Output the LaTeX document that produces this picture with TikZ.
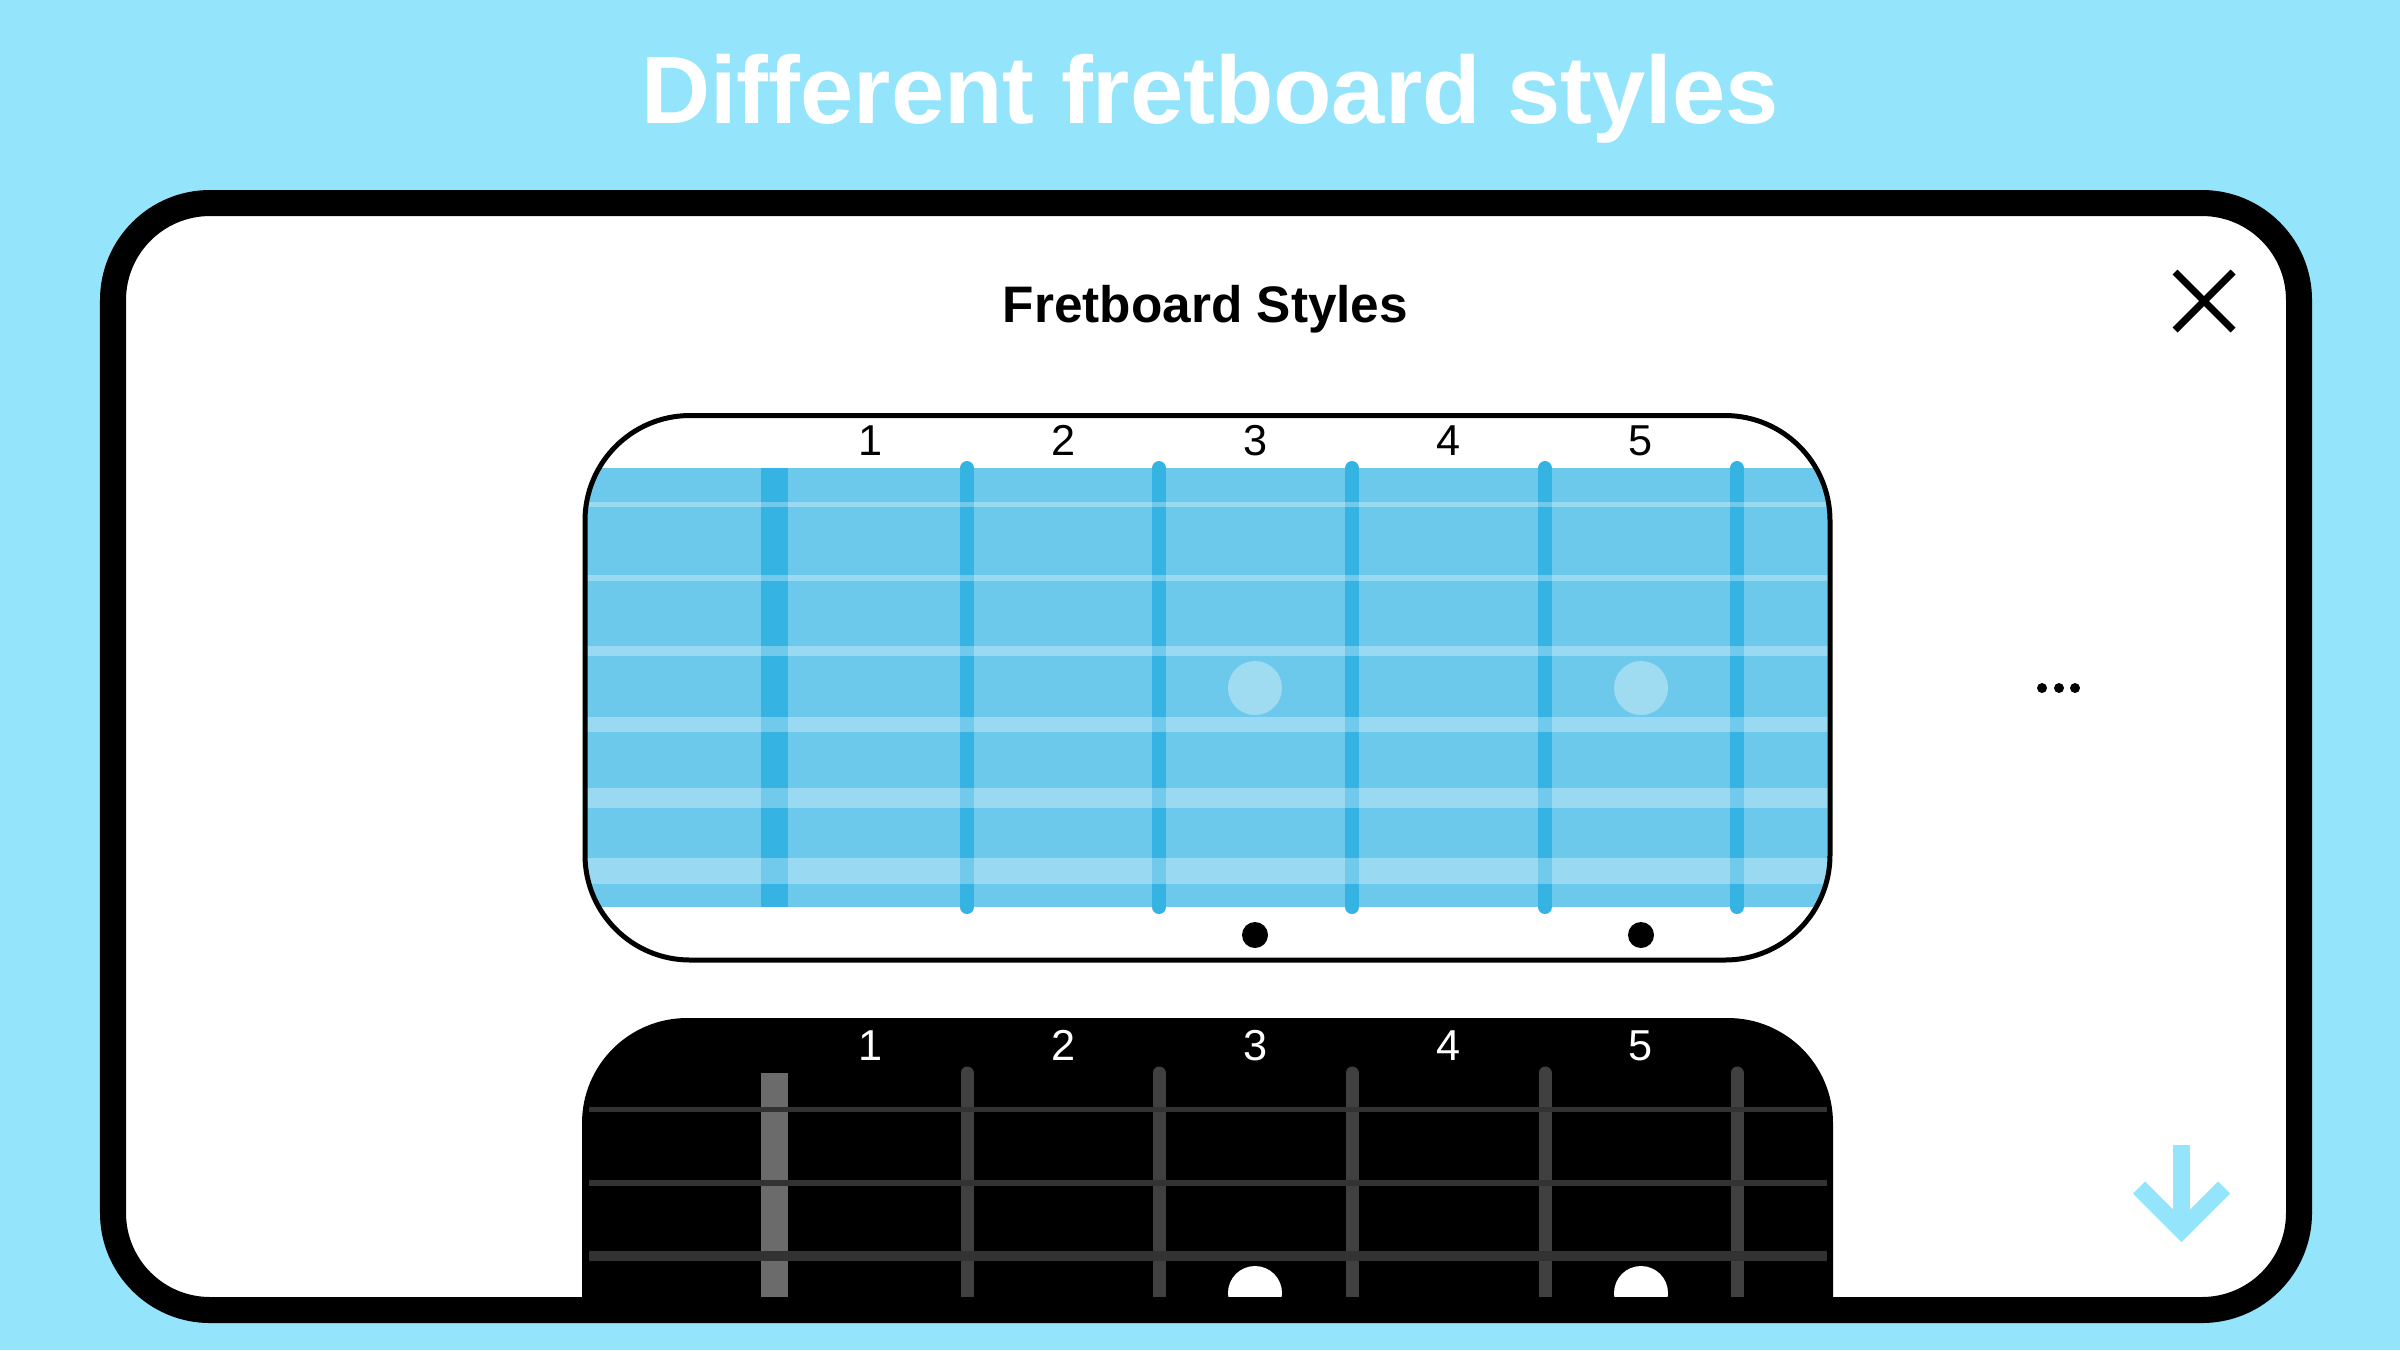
\documentclass[tikz,border=0pt]{standalone}
\usepackage{fontspec}
\setmainfont{Liberation Sans}
\usepackage{tikz}
\usetikzlibrary{positioning}
\usetikzlibrary{calc}

\definecolor{skybg}{RGB}{148,229,251}
\definecolor{neckblue}{RGB}{109,201,235}
\definecolor{fretblue}{RGB}{53,180,228}
\definecolor{darkstring}{RGB}{51,51,51}
\definecolor{darkfret}{RGB}{64,64,64}
\definecolor{darknut}{RGB}{107,107,107}

\tikzset{
  fretnum/.style={anchor=base, inner sep=0pt, font=\fontsize{12.3pt}{14pt}\selectfont},
  fretbar/.style={line width=3.98pt, line cap=round},
  nylon/.style={white, opacity=0.3},
  inlay/.style={white, opacity=0.35}
}

\begin{document}
\begin{tikzpicture}[x=0.01cm, y=-0.01cm]
\useasboundingbox (0,0) rectangle (2400,1350);
\fill[skybg] (0,0) rectangle (2400,1350);

\node[anchor=base, inner sep=0pt, white, font=\bfseries\fontsize{27.2pt}{30pt}\selectfont] (title) at (1210,123) {Different fretboard styles};

% dialog
\fill[white, rounded corners=0.97cm] (113,203) rectangle (2299,1310);
\node[anchor=base, inner sep=0pt, font=\bfseries\fontsize{14.6pt}{16pt}\selectfont] (heading) at (1205.5,322) {Fretboard Styles};

% light style
\begin{scope}
\clip[rounded corners=1.05cm] (585,415.5) rectangle (1830,960);
\fill[neckblue] (585,468) rectangle (1830,907);
\fill[fretblue] (761,468) rectangle (788,907);
\draw[fretbar, fretblue] (967,468) -- (967,907);
\draw[fretbar, fretblue] (1159,468) -- (1159,907);
\draw[fretbar, fretblue] (1352,468) -- (1352,907);
\draw[fretbar, fretblue] (1545,468) -- (1545,907);
\draw[fretbar, fretblue] (1737,468) -- (1737,907);
\draw[nylon, line width=1.42pt] (585,504.5) -- (1830,504.5);
\draw[nylon, line width=1.71pt] (585,578) -- (1830,578);
\draw[nylon, line width=2.85pt] (585,651) -- (1830,651);
\draw[nylon, line width=4.27pt] (585,724.5) -- (1830,724.5);
\draw[nylon, line width=5.69pt] (585,798) -- (1830,798);
\draw[nylon, line width=7.4pt] (585,871) -- (1830,871);
\fill[inlay] (1255,688) circle (27);
\fill[inlay] (1641,688) circle (27);
\end{scope}
\draw[line width=1.42pt, rounded corners=1.05cm] (585,415.5) rectangle (1830,960);
\fill (1255,935) circle (13);
\fill (1641,935) circle (13);

\node[fretnum] (num1) at (871,455) {1};
\node[fretnum] (num2) at ($(num1.base)+(192.5,0)$) {2};
\node[fretnum] (num3) at ($(num1.base)+(385,0)$) {3};
\node[fretnum] (num4) at ($(num1.base)+(577.5,0)$) {4};
\node[fretnum] (num5) at ($(num1.base)+(770,0)$) {5};

% dark style
\begin{scope}
\clip[rounded corners=0.84cm] (126,216) rectangle (2286,1297);
\fill[rounded corners=1.05cm] (582,1018) rectangle (1833,1567);
\fill[darknut] (761,1073) rectangle (788,1310);
\draw[fretbar, darkfret, line width=3.7pt] (967,1073) -- (967,1310);
\draw[fretbar, darkfret, line width=3.7pt] (1159,1073) -- (1159,1310);
\draw[fretbar, darkfret, line width=3.7pt] (1352,1073) -- (1352,1310);
\draw[fretbar, darkfret, line width=3.7pt] (1545,1073) -- (1545,1310);
\draw[fretbar, darkfret, line width=3.7pt] (1737,1073) -- (1737,1310);
\draw[darkstring, line width=1.42pt] (589,1109.5) -- (1827,1109.5);
\draw[darkstring, line width=1.71pt] (589,1183) -- (1827,1183);
\draw[darkstring, line width=2.85pt] (589,1256) -- (1827,1256);
\fill[white] (1255,1293) circle (27);
\fill[white] (1641,1293) circle (27);
\end{scope}

\node[fretnum, white] (dnum1) at ($(num1.base)+(0,605)$) {1};
\node[fretnum, white] (dnum2) at ($(num2.base)+(0,605)$) {2};
\node[fretnum, white] (dnum3) at ($(num3.base)+(0,605)$) {3};
\node[fretnum, white] (dnum4) at ($(num4.base)+(0,605)$) {4};
\node[fretnum, white] (dnum5) at ($(num5.base)+(0,605)$) {5};

\draw[line width=7.4pt, rounded corners=0.97cm] (113,203) rectangle (2299,1310);

% close, more, down
\draw[line width=2pt] (2175,272) -- (2233,330);
\draw[line width=2pt] (2175,330) -- (2233,272);
\fill (2042,688) circle (5);
\fill (2059,688) circle (5);
\fill (2075,688) circle (5);
\draw[skybg, line width=4.84pt] (2181.5,1145) -- (2181.5,1226);
\draw[skybg, line width=4.84pt] (2139,1187.5) -- (2181.5,1230) -- (2224,1187.5);
\end{tikzpicture}
\end{document}
